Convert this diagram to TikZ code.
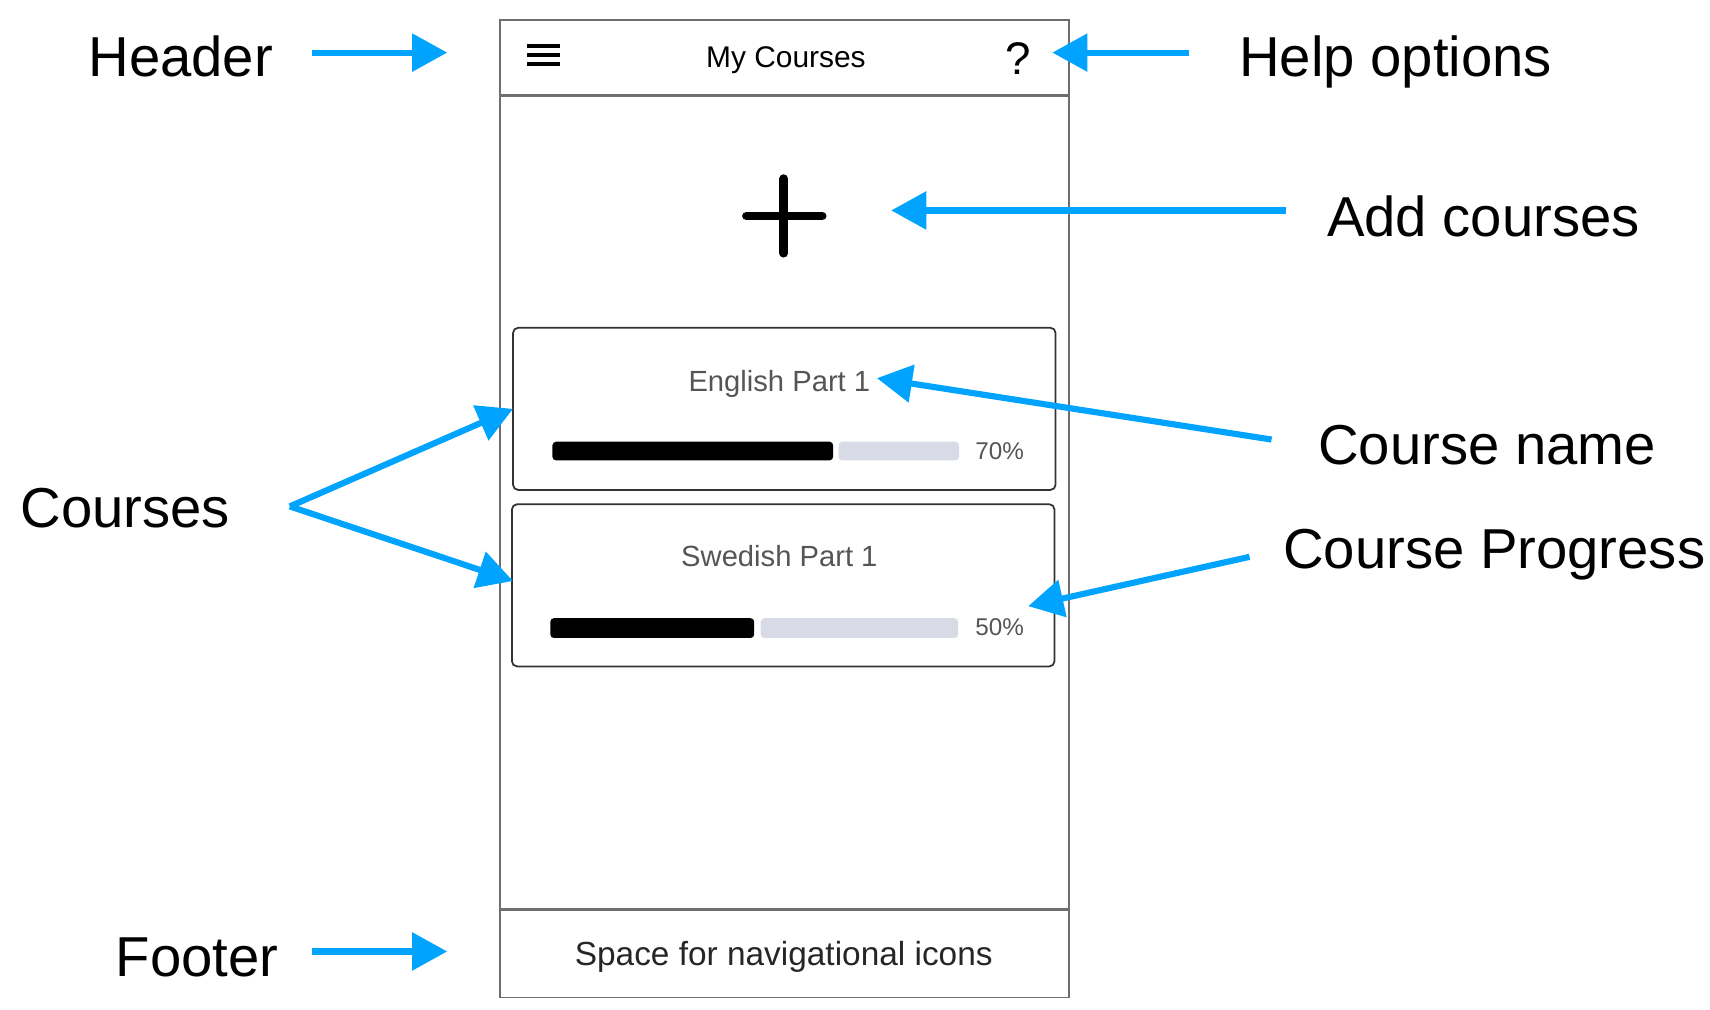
\documentclass[tikz,border=0pt]{standalone}
\usepackage{fontspec}
\setmainfont{Liberation Sans}
\usetikzlibrary{arrows.meta,calc}
\definecolor{arrowblue}{RGB}{0,164,255}
\definecolor{framegray}{RGB}{110,110,110}
\definecolor{bargray}{RGB}{216,218,229}
\definecolor{textgray}{RGB}{85,85,85}
\begin{document}
\begin{tikzpicture}[x=0.01096cm,y=-0.01096cm,
	lbl/.style={anchor=base west,inner sep=0,font=\fontsize{16}{19}\selectfont},
	arr/.style={draw=arrowblue,line width=1.75pt,-{Triangle[length=10pt,width=10.5pt]}},
	frame/.style={draw=framegray,line width=0.45pt},
	card/.style={draw=black!80,line width=0.5pt,rounded corners=1.5pt},
	small/.style={anchor=base,inner sep=0,text=textgray}]
			\useasboundingbox (0,0) rectangle (1560,921);
			\draw[frame] (456,18) rectangle (975,910);
			\draw[frame,line width=0.8pt] (456,87) -- (975,87) (456,830) -- (975,830);
			\draw[line width=1.1pt] (481,42) -- (511,42) (481,50) -- (511,50) (481,58) -- (511,58);
			\node[anchor=base,inner sep=0,font=\fontsize{8.5}{10}\selectfont] (title) at (717,62) {My Courses};
			\node[anchor=base,inner sep=0,font=\fontsize{13}{15}\selectfont] (help) at (929,68) {?};
			\draw[line width=2.5pt,line cap=round] (681,197) -- (750,197) (715,163) -- (715,231);
			\draw[card] (468,299) rectangle (963,447);
			\draw[card] (467,460) rectangle (962,608);
			\node[small,font=\fontsize{8.3}{10}\selectfont] (english) at (711,357) {English Part 1};
			\node[small,font=\fontsize{8.3}{10}\selectfont] (swedish) at (711,517) {Swedish Part 1};
			\fill[black,rounded corners=1pt] (504,403) rectangle (760,420);
			\fill[bargray,rounded corners=1pt] (765,403) rectangle (875,420);
			\fill[black,rounded corners=1pt] (502,564) rectangle (688,582);
			\fill[bargray,rounded corners=1pt] (694,564) rectangle (874,582);
			\node[small,font=\fontsize{6.9}{8}\selectfont] (p1) at (912,419) {70\%};
			\node[small,font=\fontsize{6.9}{8}\selectfont] (p2) at (912,580) {50\%};
			\node[anchor=base,inner sep=0,text=black!85,font=\fontsize{9.5}{11}\selectfont] (nav) at (715,881) {Space for navigational icons};
			\node[lbl] (header) at (80,70) {Header};
			\node[lbl] (helpopt) at (1130,70) {Help options};
			\node[lbl] (add) at (1210,216) {Add courses};
			\node[lbl] (cname) at (1202,424) {Course name};
			\node[lbl] (courses) at (18,481) {Courses};
			\node[lbl] (cprog) at (1170,519) {Course Progress};
			\node[lbl] (footer) at (105,891) {Footer};
			\coordinate (thead) at (408,48);
			\coordinate (thelp) at (960,48);
			\coordinate (tadd) at (813,192);
			\coordinate (tname) at (800,345);
			\coordinate (tc1) at (468,373);
			\coordinate (tc2) at (468,530);
			\coordinate (tprog) at (938,553);
			\coordinate (tfoot) at (408,868);
			\draw[arr] ($(header.base east)+(35,-22)$) -- (thead);
			\draw[arr] ($(helpopt.base west)+(-45,-22)$) -- (thelp);
			\draw[arr] ($(add.base west)+(-37,-24)$) -- (tadd);
			\draw[arr] ($(cname.base west)+(-42,-23)$) -- (tname);
			\draw[arr] ($(courses.base east)+(54,-19)$) -- (tc1);
			\draw[arr] ($(courses.base east)+(54,-19)$) -- (tc2);
			\draw[arr] ($(cprog.base west)+(-30,-11)$) -- (tprog);
			\draw[arr] ($(footer.base east)+(30,-23)$) -- (tfoot);
		\end{tikzpicture}
\end{document}
